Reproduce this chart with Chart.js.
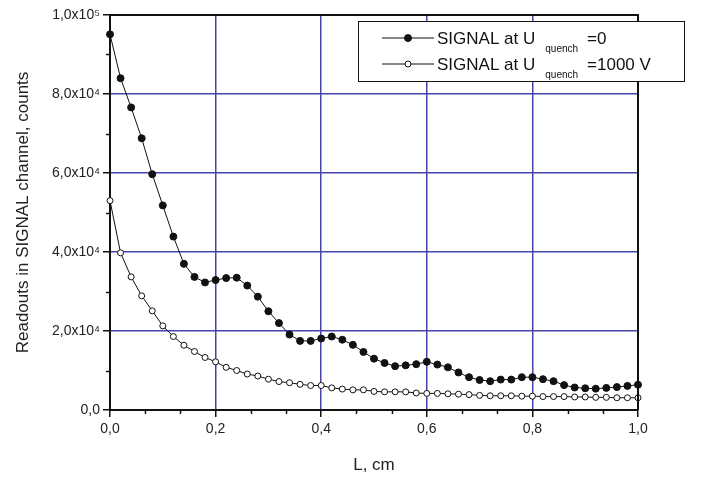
<!DOCTYPE html>
<html>
<head>
<meta charset="utf-8">
<script src="https://cdn.jsdelivr.net/npm/chart.js@4"></script>
<style>
  html, body { margin: 0; padding: 0; background: #fff; }
  #wrap { width: 701px; height: 477px; }
</style>
</head>
<body>
<div id="wrap"><canvas id="signalChart" width="701" height="477"></canvas></div>
<script>
// L, cm
var lengths = [0.00, 0.02, 0.04, 0.06, 0.08, 0.10, 0.12, 0.14, 0.16, 0.18,
               0.20, 0.22, 0.24, 0.26, 0.28, 0.30, 0.32, 0.34, 0.36, 0.38,
               0.40, 0.42, 0.44, 0.46, 0.48, 0.50, 0.52, 0.54, 0.56, 0.58,
               0.60, 0.62, 0.64, 0.66, 0.68, 0.70, 0.72, 0.74, 0.76, 0.78,
               0.80, 0.82, 0.84, 0.86, 0.88, 0.90, 0.92, 0.94, 0.96, 0.98, 1.00];

// SIGNAL at U quench = 0
var signalNoQuench = [95100, 84000, 76600, 68800, 59700, 51800, 43900, 37000, 33700, 32300,
                      32900, 33400, 33500, 31500, 28700, 25000, 22000, 19100, 17500, 17500,
                      18100, 18600, 17800, 16500, 14700, 13000, 11900, 11100, 11300, 11600,
                      12200, 11500, 10800, 9500, 8300, 7600, 7300, 7700, 7700, 8300,
                      8300, 7800, 7300, 6300, 5700, 5500, 5400, 5600, 5800, 6100, 6400];

// SIGNAL at U quench = 1000 V
var signalQuench1000 = [53000, 39800, 33700, 28900, 25100, 21300, 18600, 16400, 14800, 13300,
                        12200, 10800, 10000, 9100, 8600, 7800, 7200, 6900, 6500, 6200,
                        6200, 5600, 5300, 5100, 5100, 4700, 4600, 4600, 4600, 4300,
                        4200, 4200, 4100, 4000, 3900, 3700, 3600, 3600, 3600, 3500,
                        3500, 3400, 3400, 3400, 3300, 3300, 3200, 3200, 3100, 3100, 3100];

var seriesNames = ['=0', '=1000 V'];

var gridBlue = '#4545ab';
var fontFamily = '"Liberation Sans", Arial, Helvetica, sans-serif';
var supDigits = ['⁰','¹','²','³','⁴','⁵','⁶','⁷','⁸','⁹'];

function toPoints(values) {
    return values.map(function (v, i) { return { x: lengths[i], y: v }; });
}

function yLabel(v) {
    if (v === 0) return '0,0';
    var e = Math.floor(Math.log10(v) + 1e-9);
    var m = v / Math.pow(10, e);
    return m.toFixed(1).replace('.', ',') + 'x10' + supDigits[e];
}

// frame on top/right, minor ticks
var framePlugin = {
    id: 'frame',
    afterDraw: function (chart) {
        var c = chart.ctx, a = chart.chartArea;
        var xs = chart.scales.x, ys = chart.scales.y;
        c.save();
        c.strokeStyle = '#111';
        c.lineWidth = 2;
        c.beginPath();
        c.moveTo(a.left, a.top);
        c.lineTo(a.right, a.top);
        c.lineTo(a.right, a.bottom);
        c.stroke();

        c.lineWidth = 1.5;
        c.beginPath();
        for (var i = 1; i < 15; i++) {
            if (i % 3 === 0) continue;
            var px = Math.round(xs.getPixelForValue(i * 0.2 / 3)) + 0.5;
            c.moveTo(px, a.bottom);
            c.lineTo(px, a.bottom + 4);
        }
        for (var j = 1; j < 10; j += 2) {
            var py = Math.round(ys.getPixelForValue(j * 10000)) + 0.5;
            c.moveTo(a.left, py);
            c.lineTo(a.left - 4, py);
        }
        c.stroke();
        c.restore();
    }
};

// legend box with subscripts
var legendPlugin = {
    id: 'subLegend',
    afterDraw: function (chart) {
        var c = chart.ctx;
        var box = { l: 358, t: 21, r: 684, b: 81 };
        c.save();
        c.fillStyle = '#fff';
        c.fillRect(box.l, box.t, box.r - box.l, box.b - box.t);
        c.strokeStyle = '#111';
        c.lineWidth = 1;
        c.strokeRect(box.l + 0.5, box.t + 0.5, box.r - box.l, box.b - box.t);

        chart.data.datasets.forEach(function (ds, k) {
            var cy = 38 + k * 26;
            c.strokeStyle = '#111';
            c.lineWidth = 1;
            c.beginPath();
            c.moveTo(382, cy);
            c.lineTo(434, cy);
            c.stroke();
            c.beginPath();
            c.arc(408, cy, ds.pointRadius, 0, Math.PI * 2);
            c.fillStyle = ds.pointBackgroundColor;
            c.fill();
            c.lineWidth = 1;
            c.stroke();

            c.fillStyle = '#111';
            c.textBaseline = 'alphabetic';
            c.font = '17px ' + fontFamily;
            var x = 437;
            var base = cy + 6;
            c.fillText('SIGNAL at U', x, base);
            x += c.measureText('SIGNAL at U').width + 10;
            c.font = '10px ' + fontFamily;
            c.fillText('quench', x, base + 8);
            x += c.measureText('quench').width + 9;
            c.font = '17px ' + fontFamily;
            c.fillText(seriesNames[k], x, base);
        });
        c.restore();
    }
};

var ctx = document.getElementById('signalChart');

new Chart(ctx, {
    type: 'scatter',
    data: {
        datasets: [{
            label: 'SIGNAL at U quench =0',
            data: toPoints(signalNoQuench),
            showLine: true,
            borderColor: '#111',
            borderWidth: 1,
            pointRadius: 3.5,
            pointBackgroundColor: '#111',
            pointBorderColor: '#111',
            pointBorderWidth: 1,
            clip: false
        }, {
            label: 'SIGNAL at U quench =1000 V',
            data: toPoints(signalQuench1000),
            showLine: true,
            borderColor: '#111',
            borderWidth: 1,
            pointRadius: 3,
            pointBackgroundColor: '#fff',
            pointBorderColor: '#111',
            pointBorderWidth: 1,
            clip: false
        }]
    },
    options: {
        responsive: false,
        animation: false,
        layout: { padding: { top: 15, right: 63, left: 0, bottom: 0 } },
        plugins: {
            legend: { display: false },
            tooltip: { enabled: false }
        },
        scales: {
            x: {
                type: 'linear',
                min: 0,
                max: 1,
                afterFit: function (scale) { scale.height = 67; },
                ticks: {
                    stepSize: 0.2,
                    color: '#222',
                    padding: 4,
                    font: { family: fontFamily, size: 14 },
                    callback: function (v) { return v.toFixed(1).replace('.', ','); }
                },
                grid: {
                    color: function (c) {
                        var v = c.tick ? c.tick.value : 0;
                        return (v > 0.01 && v < 0.99) ? gridBlue : 'rgba(0,0,0,0)';
                    },
                    lineWidth: 1.5,
                    tickColor: '#111',
                    tickLength: 7,
                    tickWidth: 1.5
                },
                border: { color: '#111', width: 2 },
                title: {
                    display: true,
                    text: 'L, cm',
                    color: '#222',
                    font: { family: fontFamily, size: 17 },
                    padding: { top: 0, bottom: 1 }
                }
            },
            y: {
                min: 0,
                max: 100000,
                afterFit: function (scale) { scale.width = 110; },
                ticks: {
                    stepSize: 20000,
                    color: '#222',
                    padding: 3,
                    font: { family: fontFamily, size: 14 },
                    callback: function (v) { return yLabel(v); }
                },
                grid: {
                    color: function (c) {
                        var v = c.tick ? c.tick.value : 0;
                        return (v > 0 && v < 100000) ? gridBlue : 'rgba(0,0,0,0)';
                    },
                    lineWidth: 1.5,
                    tickColor: '#111',
                    tickLength: 7,
                    tickWidth: 1.5
                },
                border: { color: '#111', width: 2 },
                title: {
                    display: true,
                    text: 'Readouts in SIGNAL channel, counts',
                    color: '#222',
                    font: { family: fontFamily, size: 17 },
                    padding: { top: 13, bottom: 0 }
                }
            }
        }
    },
    plugins: [framePlugin, legendPlugin]
});
</script>
</body>
</html>
